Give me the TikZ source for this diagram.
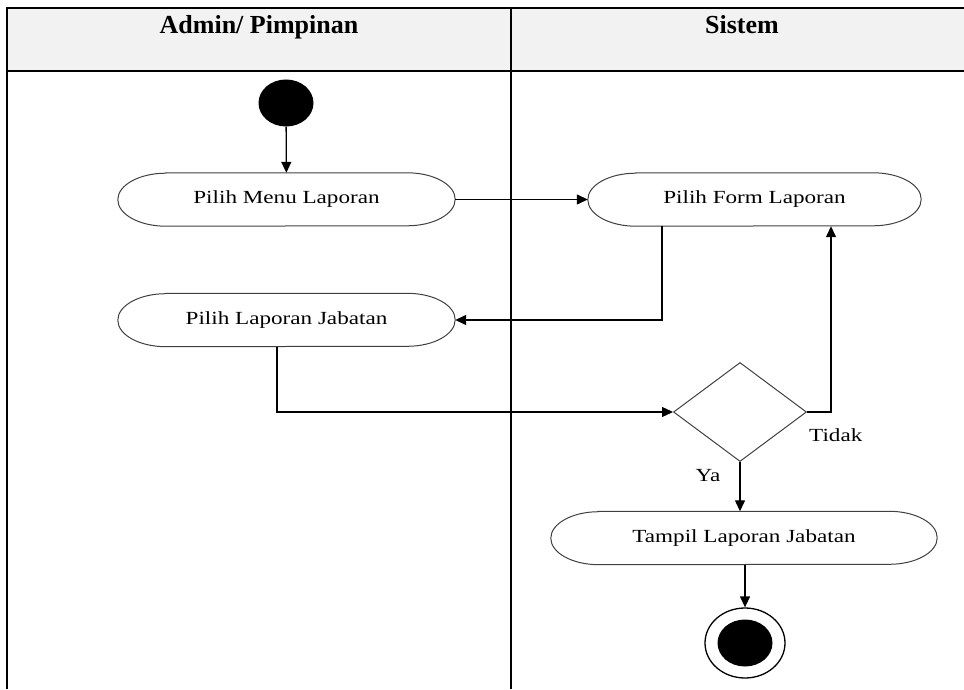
\documentclass[tikz,border=0pt]{standalone}
\usepackage{fontspec}
\setmainfont{Liberation Serif}
\newfontfamily\actfont[FakeStretch=1.25]{Liberation Serif}
\usetikzlibrary{shapes.geometric,arrows.meta}

\begin{document}
\begin{tikzpicture}[x=1pt, y=1pt,
    lane/.style={line width=2.4pt},
    head/.style={font=\fontsize{26}{30}\selectfont\bfseries, inner sep=0pt, anchor=base},
    flow/.style={line width=1.3pt, -{Triangle[length=11pt,width=10pt]}},
    act/.style={inner sep=0pt, minimum height=53pt, font=\actfont\fontsize{18.5}{22}\selectfont,
        append after command={\pgfextra{
            \draw[black!75, line width=1pt]
                ([xshift=48pt]\tikzlastnode.north west) -- ([xshift=-48pt]\tikzlastnode.north east)
                arc[start angle=90, end angle=-90, x radius=48pt, y radius=26.5pt]
                -- ([xshift=48pt]\tikzlastnode.south west)
                arc[start angle=270, end angle=90, x radius=48pt, y radius=26.5pt] -- cycle;}}},
    choice/.style={diamond, draw=black!75, line width=1pt, minimum width=133pt,
        minimum height=99pt, inner sep=0pt},
    lbl/.style={font=\actfont\fontsize{18.5}{22}\selectfont, inner sep=0pt},
    startdot/.style={ellipse, fill=black, minimum width=55pt, minimum height=47pt, inner sep=0pt},
    endring/.style={ellipse, draw, line width=1.3pt, minimum width=80pt, minimum height=70pt, inner sep=0pt}]

    \useasboundingbox (0,0) rectangle (964,689);

    % lanes
    \fill[black!5] (7,618) rectangle (964,681);
    \draw[lane] (7,0) -- (7,681) -- (964,681);
    \draw[lane] (7,618) -- (964,618);
    \draw[lane] (511,0) -- (511,681);
    \node[head] (admin) at (259,655) {Admin/ Pimpinan};
    \node[head] (sistem) at (742,655) {Sistem};

    \node[startdot] (start) at (286,586) {};
    \node[act, minimum width=337pt] (menu) at (286.5,489.5) {Pilih Menu Laporan};
    \node[act, minimum width=333pt] (form) at (754.5,489.5) {Pilih Form Laporan};
    \node[act, minimum width=337pt] (jabatan) at (286.5,369) {Pilih Laporan Jabatan};
    \node[choice] (cek) at (740,277) {};
    \node[act, minimum width=386pt] (tampil) at (744,151) {Tampil Laporan Jabatan};
    \node[endring] (stop) at (745,46) {};
    \node[startdot] (stopdot) at (stop) {};

    \node[lbl, anchor=west] (tidak) at ([shift={(2,-23)}]cek.east) {Tidak};
    \node[lbl] (ya) at ([shift={(-32,-14)}]cek.south) {Ya};

    \draw[flow] (start) -- (menu);
    \draw[flow] (menu) -- (form);
    \draw[flow] ([xshift=-92.5pt]form.south) |- (jabatan.east);
    \draw[flow] ([xshift=-9.5pt]jabatan.south) |- (cek.west);
    \draw[flow] (cek.east) -| ([xshift=76.5pt]form.south);
    \draw[flow] (cek.south) -- (cek.south |- tampil.north);
    \draw[flow] (tampil.south -| stop) -- (stop.north);
\end{tikzpicture}
\end{document}
